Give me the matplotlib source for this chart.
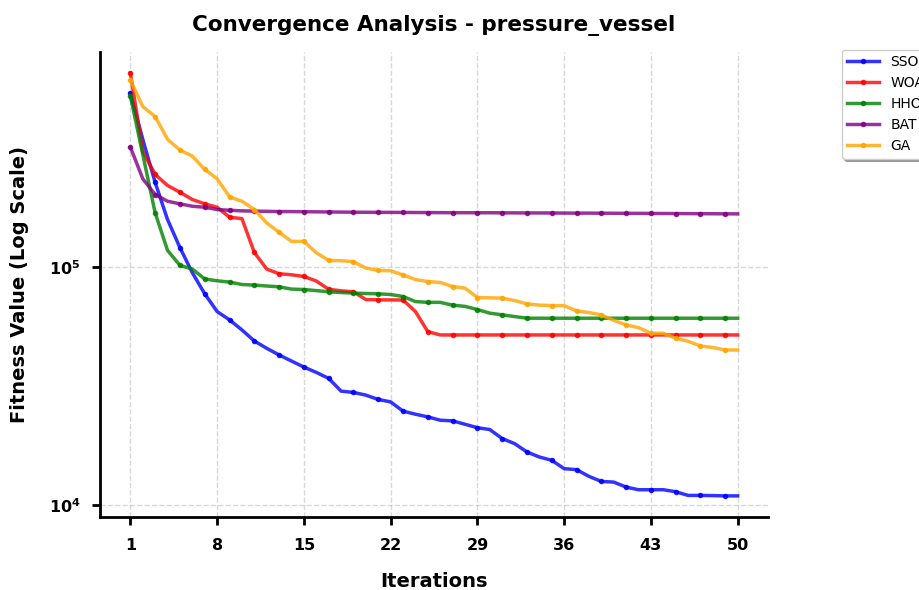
import numpy as np
import matplotlib
matplotlib.use('Agg')
import matplotlib.pyplot as plt
from matplotlib.ticker import NullLocator

# data
iterations = np.arange(1, 51)

sso = [533000, 341700, 225400, 157600, 120200, 94400, 77000, 64900, 59900, 54370,
       48880, 45530, 42700, 40270, 38000, 36100, 34070, 30130, 29750, 28990,
       27800, 27160, 24830, 24120, 23500, 22760, 22610, 21890, 21170, 20800,
       19070, 18160, 16750, 15960, 15460, 14260, 14130, 13240, 12610, 12530,
       11940, 11640, 11640, 11640, 11420, 11020, 11020, 11000, 10970, 10970]

woa = [647100, 304200, 243500, 218900, 205200, 191200, 183400, 177500, 161200, 159100,
       114800, 97800, 93450, 92550, 91040, 87150, 80440, 79280, 78520, 72880,
       72660, 72600, 72560, 64900, 53480, 51800, 51800, 51800, 51800, 51800,
       51800, 51800, 51800, 51800, 51800, 51800, 51800, 51800, 51800, 51800,
       51800, 51800, 51800, 51800, 51800, 51800, 51800, 51800, 51800, 51800]

hho = [519400, 295500, 168100, 117100, 101300, 97800, 88860, 87330, 86240, 84250,
       83770, 83040, 82410, 80600, 80280, 79430, 78520, 77990, 77540, 77240,
       77020, 76500, 75030, 71480, 70920, 70920, 69040, 68240, 66160, 63900,
       62860, 61840, 60890, 60860, 60860, 60860, 60860, 60860, 60860, 60860,
       60860, 60860, 60860, 60860, 60860, 60860, 60860, 60860, 60860, 60860]

bat = [317100, 233600, 200700, 188100, 183400, 179200, 177500, 173600, 172400, 171400,
       171000, 170600, 170300, 170200, 170000, 169800, 169600, 169400, 169200, 169100,
       169000, 168900, 168800, 168700, 168600, 168500, 168400, 168400, 168300, 168300,
       168200, 168100, 168000, 168000, 167900, 167800, 167700, 167700, 167600, 167500,
       167400, 167300, 167200, 167100, 167000, 166900, 166800, 166700, 166600, 166500]

ga = [604500, 468800, 425600, 341700, 308100, 290700, 255600, 233600, 196300, 188100,
      173600, 152600, 139400, 127700, 127700, 114500, 106200, 106000, 105000, 98750,
      96460, 96200, 92370, 88430, 86660, 85910, 82640, 81380, 74300, 74080,
      73870, 72180, 69900, 69040, 68770, 68700, 65330, 64270, 62860, 59620,
      57060, 55590, 52650, 52650, 50160, 48730, 46560, 45890, 44800, 44800]

names = ['SSO', 'WOA', 'HHO', 'BAT', 'GA']
series = [sso, woa, hho, bat, ga]
colors = ['blue', 'red', 'green', 'purple', 'orange']

fig = plt.figure(figsize=(9.2, 5.9), dpi=100)
ax = fig.add_axes([0.1087, 0.1237, 0.7261, 0.7882])

for name, vals, c in zip(names, series, colors):
    ax.plot(iterations, vals, color=c, linewidth=2.5, alpha=0.8,
            marker='o', markersize=3, markevery=2, label=name)

ax.set_yscale('log')
ax.yaxis.set_minor_locator(NullLocator())
ax.set_xticks(range(1, 51, 7))

ax.set_title('Convergence Analysis - pressure_vessel', fontsize=15.5, fontweight='bold', pad=15)
ax.set_xlabel('Iterations', fontsize=14, fontweight='bold', labelpad=14)
ax.set_ylabel('Fitness Value (Log Scale)', fontsize=14, fontweight='bold', labelpad=14)

ax.grid(True, linestyle='--', alpha=0.3, color='gray', linewidth=1)
ax.spines['top'].set_visible(False)
ax.spines['right'].set_visible(False)
ax.spines['left'].set_linewidth(2)
ax.spines['bottom'].set_linewidth(2)
ax.tick_params(axis='both', which='major', width=2, length=6, labelsize=11.5)
ax.tick_params(axis='x', pad=9)
ax.tick_params(axis='y', pad=8)
for lab in ax.get_xticklabels() + ax.get_yticklabels():
    lab.set_fontweight('bold')

ax.legend(loc='upper left', bbox_to_anchor=(1.1, 1.02), fontsize=10, handlelength=2.3,
          shadow=True, frameon=True)

fig.savefig('out.png', dpi=100)
